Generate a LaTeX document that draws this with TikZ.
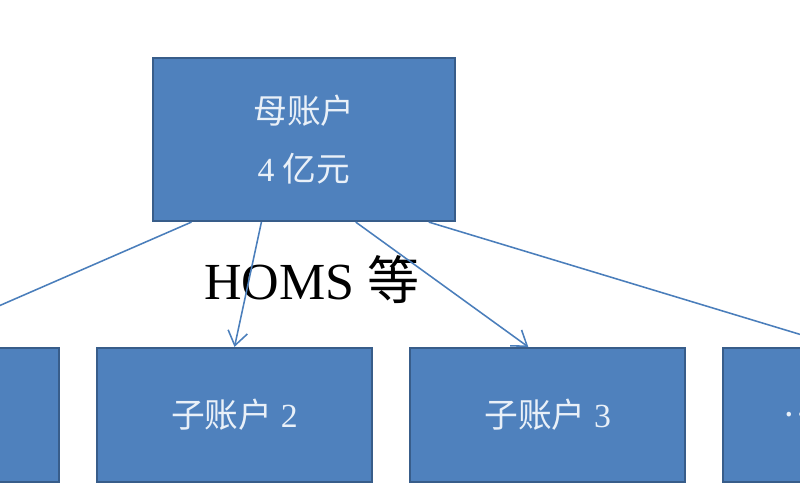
\documentclass[tikz,border=0pt]{standalone}
\usepackage{fontspec}
\setmainfont{Liberation Serif}
\newfontfamily\cjk{Noto Sans CJK SC}
\usepackage{tikz}
\usetikzlibrary{arrows.meta,positioning,calc}
\definecolor{BoxFill}{HTML}{4F81BD}
\definecolor{BoxEdge}{HTML}{385D8A}
\definecolor{BoxText}{HTML}{E9F0F8}
\definecolor{LinkColor}{HTML}{4A7EBB}
\tikzset{
  acct/.style={draw=BoxEdge,line width=1.5pt,fill=BoxFill,text=BoxText,
    minimum width=6.875cm,minimum height=3.35cm,font=\fontsize{24}{41}\selectfont},
  link/.style={LinkColor,line width=1.1pt,-{Straight Barb[length=10pt,width=14pt]}}
}

\begin{document}
\begin{tikzpicture}[x=0.025cm,y=-0.025cm,node distance=0.9cm]
  \fill[white] (0,0) rectangle (800,500);
  \useasboundingbox (0,0) rectangle (800,500);
  \clip (0,0) rectangle (800,500);
  \node[acct,minimum width=7.55cm,minimum height=4.075cm,align=center] (mom) at (304,139.5)
    {{\cjk 母账户}\\4 {\cjk 亿元}};
  \node[acct] (s2) at (234.5,415) {{\cjk 子账户} 2};
  \node[acct,left=of s2] (s1) {};
  \node[acct,right=of s2] (s3) {{\cjk 子账户} 3};
  \node[acct,right=of s3] (s4) {};
  \node[text=BoxText,font=\fontsize{24}{24}\selectfont\cjk,anchor=west] (dots)
    at ($(s4.west)+(56,0)$) {……};
  \node[font=\fontsize{37}{37}\selectfont] (homs) at (312,280) {HOMS {\cjk 等}};
  % links from the parent account
  \draw[link] ($(mom.south west)!0.13!(mom.south east)$) -- ($(s1.north west)!0.44!(s1.north east)$);
  \draw[link] ($(mom.south west)!0.36!(mom.south east)$) -- ($(s2.north west)!0.5!(s2.north east)$);
  \draw[link] ($(mom.south west)!0.67!(mom.south east)$) -- ($(s3.north west)!0.43!(s3.north east)$);
  \draw[link] ($(mom.south west)!0.91!(mom.south east)$) -- ($(s4.north west)!0.43!(s4.north east)$);
\end{tikzpicture}
\end{document}
